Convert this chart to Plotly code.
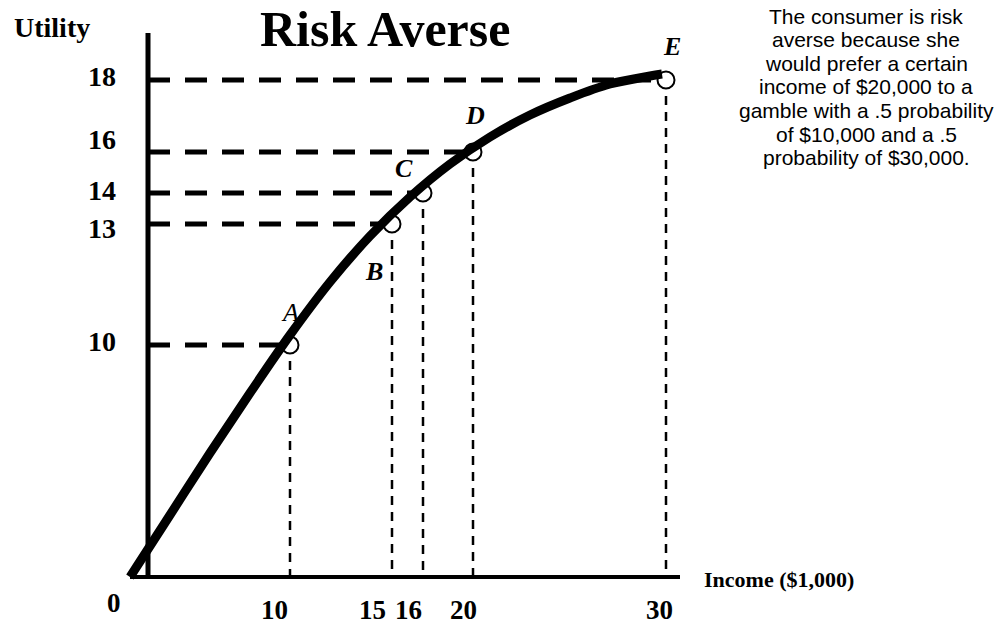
import plotly.graph_objects as go

# ---------------- data ----------------
point_labels = ["A", "B", "C", "D", "E"]
income = [10, 15, 16, 20, 30]          # $1,000
utility = [10, 13, 14, 16, 18]
x_tick_labels = [0, 10, 15, 16, 20, 30]
y_tick_labels = [10, 13, 14, 16, 18]

# The diagram is a schematic (not drawn to scale): where each value sits on its axis
income_axis_pos = {0: 0, 10: 160, 15: 262, 16: 293, 20: 343, 30: 536}
utility_axis_pos = {0: 0, 10: 232, 13: 353, 14: 384, 16: 425, 18: 497}

# hand-drawn utility curve (schematic axis units)
curve_x = [0, 40, 80, 120, 160, 200, 240, 280, 320, 360, 400, 440, 480, 520, 532]
curve_y = [0, 62, 124, 184, 242, 295, 341, 380, 413, 440, 462, 479, 493, 501, 503]

note_lines = [
    "The consumer is risk",
    "averse because she",
    "would prefer a certain",
    "income of $20,000 to a",
    "gamble with a .5 probability",
    "of $10,000 and a .5",
    "probability of $30,000.",
]

# ---------------- layout constants ----------------
W, H = 1001, 624
X0, Y0 = 130, 577            # pixel position of the schematic origin
SERIF = "Liberation Serif, Times New Roman, serif"
SANS = "Liberation Sans, Arial, sans-serif"

def P(px, py):
    return px / W, 1 - py / H

xp = [income_axis_pos[v] for v in income]
yp = [utility_axis_pos[v] for v in utility]

fig = go.Figure()

# horizontal dashed guides (from the utility axis to each point)
for x, y in zip(xp, yp):
    fig.add_trace(go.Scatter(x=[18, x], y=[y, y], mode="lines",
                             line=dict(color="black", width=5, dash="22px,15px"),
                             hoverinfo="skip", showlegend=False))
# vertical dashed guides (from each point down to the income axis)
for x, y in zip(xp, yp):
    fig.add_trace(go.Scatter(x=[x, x], y=[y, 0], mode="lines",
                             line=dict(color="black", width=2.5, dash="9px,7px"),
                             hoverinfo="skip", showlegend=False))

# axes
fig.add_trace(go.Scatter(x=[18, 18], y=[0, 544], mode="lines",
                         line=dict(color="black", width=5), hoverinfo="skip", showlegend=False))
fig.add_trace(go.Scatter(x=[0, 550], y=[0, 0], mode="lines",
                         line=dict(color="black", width=4), hoverinfo="skip", showlegend=False))

# points
fig.add_trace(go.Scatter(x=xp, y=yp, mode="markers",
                         marker=dict(size=17, color="white", line=dict(color="black", width=2)),
                         hoverinfo="skip", showlegend=False))

# utility curve
fig.add_trace(go.Scatter(x=curve_x, y=curve_y, mode="lines",
                         line=dict(color="black", width=9, shape="spline", smoothing=1.0),
                         hoverinfo="skip", showlegend=False))

ann = []
# title
tx, ty = P(385, 29)
ann.append(dict(x=tx, y=ty, xref="paper", yref="paper", text="<b>Risk Averse</b>",
                showarrow=False, font=dict(family=SERIF, size=50, color="black"),
                xanchor="center", yanchor="middle"))
tx, ty = P(52, 28)
ann.append(dict(x=tx, y=ty, xref="paper", yref="paper", text="<b>Utility</b>",
                showarrow=False, font=dict(family=SERIF, size=28, color="black"),
                xanchor="center", yanchor="middle"))
tx, ty = P(702, 579)
ann.append(dict(x=tx, y=ty, xref="paper", yref="paper", text="<b>Income ($1,000)</b>",
                showarrow=False, font=dict(family=SERIF, size=22, color="black"),
                xanchor="left", yanchor="middle"))

# y tick labels (centred at pixel x = 102)
y_label_shift = {10: 4, 13: -4, 14: 3, 16: 13, 18: 4}
for v in y_tick_labels:
    ann.append(dict(x=102 - X0, y=utility_axis_pos[v], xref="x", yref="y", text=f"<b>{v}</b>",
                    showarrow=False, font=dict(family=SERIF, size=28, color="black"),
                    xanchor="center", yanchor="middle", yshift=y_label_shift[v]))
# x tick labels
x_label_shift = {0: (-16, -26), 10: (-16, -33), 15: (-20, -33), 16: (-15, -33),
                 20: (-10, -33), 30: (-7, -33)}
for v in x_tick_labels:
    dx, dy = x_label_shift[v]
    ann.append(dict(x=income_axis_pos[v], y=0, xref="x", yref="y", text=f"<b>{v}</b>",
                    showarrow=False, font=dict(family=SERIF, size=27, color="black"),
                    xanchor="center", yanchor="middle", xshift=dx, yshift=dy))

# point labels
pt_shift = {"A": (0, 33), "B": (-18, -47), "C": (-19, 25), "D": (2, 37), "E": (6, 34)}
for lab, x, y in zip(point_labels, xp, yp):
    dx, dy = pt_shift[lab]
    txt = f"<i>{lab}</i>" if lab == "A" else f"<b><i>{lab}</i></b>"
    ann.append(dict(x=x, y=y, xref="x", yref="y", text=txt, showarrow=False,
                    font=dict(family=SERIF, size=26, color="black"),
                    xanchor="center", yanchor="middle", xshift=dx, yshift=dy))

# explanatory note
for i, line in enumerate(note_lines):
    tx, ty = P(866, 16 + i * 23.6)
    ann.append(dict(x=tx, y=ty, xref="paper", yref="paper", text=line, showarrow=False,
                    font=dict(family=SANS, size=21, color="black"),
                    xanchor="center", yanchor="middle"))

fig.update_layout(
    width=W, height=H,
    margin=dict(l=0, r=0, t=0, b=0),
    paper_bgcolor="white", plot_bgcolor="white",
    xaxis=dict(range=[-X0, W - X0], visible=False, fixedrange=True),
    yaxis=dict(range=[Y0 - H, Y0], visible=False, fixedrange=True),
    annotations=ann,
    showlegend=False,
)

fig.write_html("out.html", config={"displayModeBar": False},
               post_script="document.body.style.margin='0';")
